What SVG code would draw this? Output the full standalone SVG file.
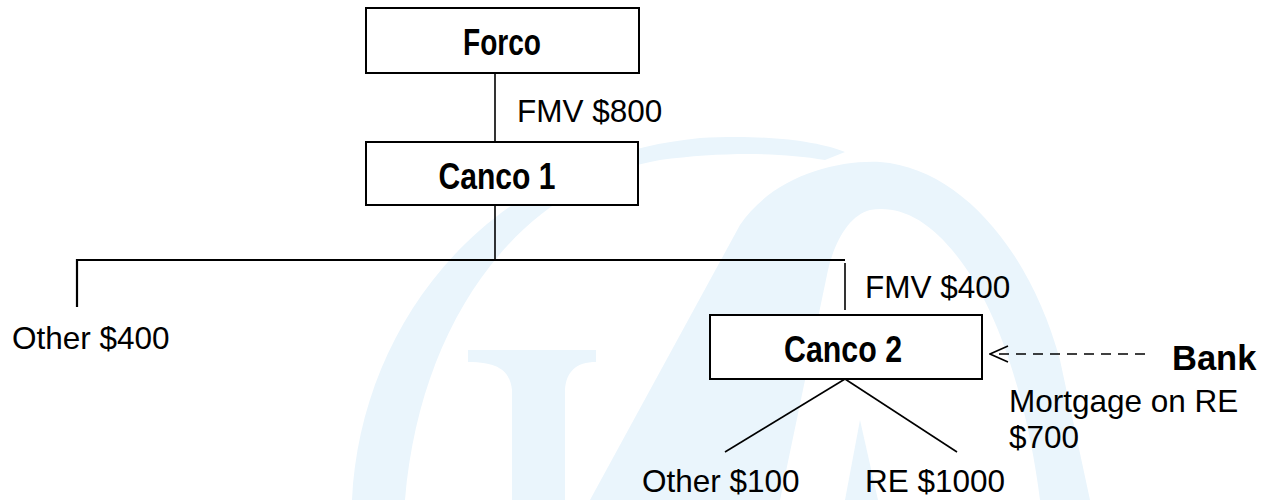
<svg xmlns="http://www.w3.org/2000/svg" width="1265" height="500" viewBox="0 0 1265 500">
  <style>
    .wm { fill: #EAF5FC; stroke: none; }
    .box { fill: #ffffff; stroke: #000000; stroke-width: 2; }
    .title { font-family: 'Liberation Sans Narrow', 'Liberation Sans', Arial, sans-serif; font-weight: bold; font-size: 37px; fill: #000000; text-anchor: middle; }
    .lbl { font-family: 'Liberation Sans', Arial, sans-serif; font-size: 31.5px; fill: #000000; }
    .bank { font-family: 'Liberation Sans', Arial, sans-serif; font-weight: bold; font-size: 34.5px; fill: #000000; }
    .ln { fill: none; stroke: #000000; stroke-width: 1.6; }
    .hl { fill: none; stroke: #000000; stroke-width: 2.2; }
    .dash { fill: none; stroke: #000000; stroke-width: 1.6; stroke-dasharray: 10 7; }
  </style>
  <defs>
    <marker id="open" viewBox="0 0 20 20" refX="19" refY="10" markerWidth="20" markerHeight="20" markerUnits="userSpaceOnUse" orient="auto">
      <path d="M 1 2 L 19 10 L 1 18" fill="none" stroke="#000000" stroke-width="1.6"/>
    </marker>
  </defs>
  <rect x="0" y="0" width="1265" height="500" fill="#ffffff"/>

  <g id="watermark">
    <path class="wm" d="M 352 500 C 360 330, 480 160, 700 138 C 770 134, 820 142, 845 152 L 825 160 C 780 152, 720 152, 660 160 C 520 185, 420 320, 405 500 Z"/>
    <path class="wm" d="M 468 350 L 596 350 L 596 362 C 576 362, 566 372, 565 390 L 565 500 L 512 500 L 512 390 C 510 372, 500 362, 468 362 Z"/>
    <path class="wm" d="M 590 500 L 740 225 C 770 180, 830 160, 880 162 C 960 168, 1030 250, 1060 360 L 1090 500 L 1040 500 C 1030 420, 1005 320, 960 260 C 930 220, 900 205, 870 210 C 850 215, 835 240, 828 270 L 780 500 Z"/>
    <path class="wm" d="M 860 420 L 878 500 L 845 500 Z"/>
  </g>

  <g id="connectors">
    <line class="ln" x1="495" y1="73" x2="495" y2="142"/>
    <line class="ln" x1="495" y1="205" x2="495" y2="260"/>
    <polyline class="hl" points="77,307 77,260 845,260"/>
    <line class="ln" x1="845" y1="263" x2="845" y2="310"/>
    <line class="ln" x1="845" y1="379" x2="725" y2="452"/>
    <line class="ln" x1="845" y1="379" x2="957" y2="452"/>
    <line class="dash" x1="1145" y1="354" x2="990" y2="354" marker-end="url(#open)"/>
  </g>

  <g id="forco">
    <rect class="box" x="366" y="8" width="273" height="65"/>
    <text class="title" x="502" y="55" textLength="78" lengthAdjust="spacingAndGlyphs">Forco</text>
  </g>
  <g id="canco1">
    <rect class="box" x="366" y="142" width="272" height="63"/>
    <text class="title" x="497" y="189" textLength="117" lengthAdjust="spacingAndGlyphs">Canco 1</text>
  </g>
  <g id="canco2">
    <rect class="box" x="710" y="315" width="272" height="64"/>
    <text class="title" x="843" y="362" textLength="118" lengthAdjust="spacingAndGlyphs">Canco 2</text>
  </g>
  <g id="bank">
    <text class="bank" x="1172" y="370">Bank</text>
  </g>
  <g id="labels">
    <text class="lbl" x="517" y="122">FMV $800</text>
    <text class="lbl" x="12" y="349">Other $400</text>
    <text class="lbl" x="865" y="298">FMV $400</text>
    <text class="lbl" x="1009" y="412">Mortgage on RE</text>
    <text class="lbl" x="1009" y="448">$700</text>
    <text class="lbl" x="642" y="492">Other $100</text>
    <text class="lbl" x="865" y="492">RE $1000</text>
  </g>
</svg>
